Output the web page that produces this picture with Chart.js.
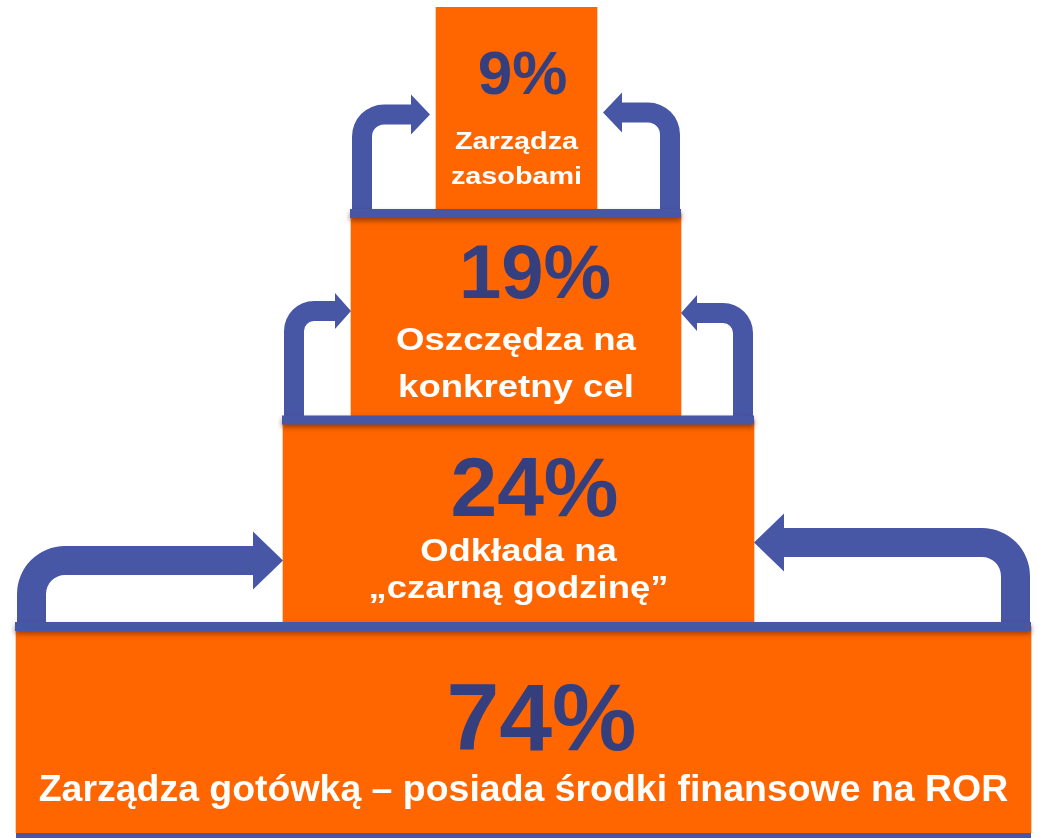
<!DOCTYPE html>
<html>
<head>
<meta charset="utf-8">
<script src="https://cdn.jsdelivr.net/npm/chart.js@4"></script>
<style>
body { margin: 0; background: #fff; }
#wrap { width: 1039px; height: 838px; position: relative; }
</style>
</head>
<body>
<div id="wrap"><canvas id="pyramidChart"></canvas></div>
<script>
// pyramid tiers, top to bottom
var tiers = ['Zarządza zasobami', 'Oszczędza na konkretny cel', 'Odkłada na „czarną godzinę”', 'Zarządza gotówką – posiada środki finansowe na ROR'];
var tierLines = [
    ['Zarządza', 'zasobami'],
    ['Oszczędza na', 'konkretny cel'],
    ['Odkłada na', '„czarną godzinę”'],
    ['Zarządza gotówką – posiada środki finansowe na ROR']
];
var shares = [9, 19, 24, 74];
var tierStart = [-82, -167, -235, -502];
var tierEnd = [79, 163, 236, 513];

var ORANGE = '#FF6600';
var BLUE = '#4856A6';
var NAVY = '#363F7E';

// text styling per tier
var pctSize = [62, 76, 84, 95];
var pctShift = [6, 19, 16, 18];
var pctBase = [-16, -19, -7, 20];
var lineSize = [24, 31, 32, 36];
var lineStretch = [1.2, 1.18, 1.14, 1.04];
var lineBase = [[39, 74], [33, 80], [38, 75], [71]];

// arrows between tiers (upper tier index)
var arrowThick = [20, 20, 29];
var arrowRadius = [32, 30, 48];
var headLen = [19, 16, 30];
var headHalf = [20, 18, 29];
var tipGap = [6, 0, 0];
var leftRise = [99, 109, 66];
var rightRise = [101, 107, 84];

function drawArrow(ctx, s, footX, floorY, tipX, tipY, t, R, hl, hh) {
    var topY = tipY - t / 2, botY = tipY + t / 2;
    ctx.beginPath();
    ctx.moveTo(footX, floorY);
    ctx.arcTo(footX, topY, footX + s * R, topY, R);
    ctx.lineTo(tipX - s * hl, topY);
    ctx.lineTo(tipX - s * hl, tipY - hh);
    ctx.lineTo(tipX, tipY);
    ctx.lineTo(tipX - s * hl, tipY + hh);
    ctx.lineTo(tipX - s * hl, botY);
    ctx.arcTo(footX + s * t, botY, footX + s * t, floorY, R - t);
    ctx.lineTo(footX + s * t, floorY);
    ctx.closePath();
    ctx.fill();
}

function stretchText(ctx, text, x, y, sx) {
    ctx.save();
    ctx.translate(x, y);
    ctx.scale(sx, 1);
    ctx.fillText(text, 0, 0);
    ctx.restore();
}

var pyramidDecor = {
    id: 'pyramidDecor',
    afterDatasetsDraw: function (chart) {
        var ctx = chart.ctx;
        var bars = chart.getDatasetMeta(0).data.map(function (b) {
            var p = b.getProps(['x', 'y', 'base', 'height'], true);
            return {
                left: Math.min(p.x, p.base), right: Math.max(p.x, p.base),
                top: p.y - p.height / 2, bottom: p.y + p.height / 2,
                cx: (p.x + p.base) / 2, cy: p.y
            };
        });
        ctx.save();
        ctx.fillStyle = BLUE;
        for (var i = 0; i < bars.length - 1; i++) {
            var up = bars[i], low = bars[i + 1];
            var floorY = (up.bottom + low.top) / 2;
            var t = arrowThick[i];
            drawArrow(ctx, 1, low.left + 1, floorY, up.left - tipGap[i], floorY - leftRise[i], t, arrowRadius[i], headLen[i], headHalf[i]);
            drawArrow(ctx, -1, low.right - 1, floorY, up.right + tipGap[i], floorY - rightRise[i], t, arrowRadius[i], headLen[i], headHalf[i]);
        }
        // floors with a soft shadow
        ctx.shadowColor = 'rgba(90, 30, 0, 0.55)';
        ctx.shadowBlur = 5;
        ctx.shadowOffsetY = 3;
        for (var j = 0; j < bars.length - 1; j++) {
            var lb = bars[j + 1];
            var fy = (bars[j].bottom + lb.top) / 2;
            ctx.fillRect(lb.left - 1, fy - 4.5, lb.right - lb.left + 1, 9);
        }
        ctx.shadowColor = 'transparent';
        var last = bars[bars.length - 1];
        ctx.fillRect(last.left, last.bottom, last.right - last.left, 6);

        // texts
        ctx.textAlign = 'center';
        ctx.textBaseline = 'alphabetic';
        bars.forEach(function (b, k) {
            ctx.fillStyle = NAVY;
            ctx.font = 'bold ' + pctSize[k] + 'px "Liberation Sans", Arial, sans-serif';
            ctx.fillText(shares[k] + '%', b.cx + pctShift[k], b.cy + pctBase[k]);
            ctx.fillStyle = '#FFFFFF';
            ctx.font = 'bold ' + lineSize[k] + 'px "Liberation Sans", Arial, sans-serif';
            tierLines[k].forEach(function (line, n) {
                stretchText(ctx, line, b.cx, b.cy + lineBase[k][n], lineStretch[k]);
            });
        });
        ctx.restore();
    }
};

var ctx = document.getElementById('pyramidChart').getContext('2d');
var pyramidChart = new Chart(ctx, {
    type: 'bar',
    data: {
        labels: tiers,
        datasets: [{
            data: tierStart.map(function (s, i) { return [s, tierEnd[i]]; }),
            backgroundColor: ORANGE,
            borderWidth: 0,
            barPercentage: 1,
            categoryPercentage: 1
        }]
    },
    options: {
        indexAxis: 'y',
        responsive: true,
        maintainAspectRatio: false,
        animation: false,
        layout: { padding: { top: 7, bottom: 5, left: 0, right: 0 } },
        scales: {
            x: { display: false, min: -518, max: 521 },
            y: { display: false }
        },
        plugins: {
            legend: { display: false },
            tooltip: { enabled: false }
        }
    },
    plugins: [pyramidDecor]
});
</script>
</body>
</html>
